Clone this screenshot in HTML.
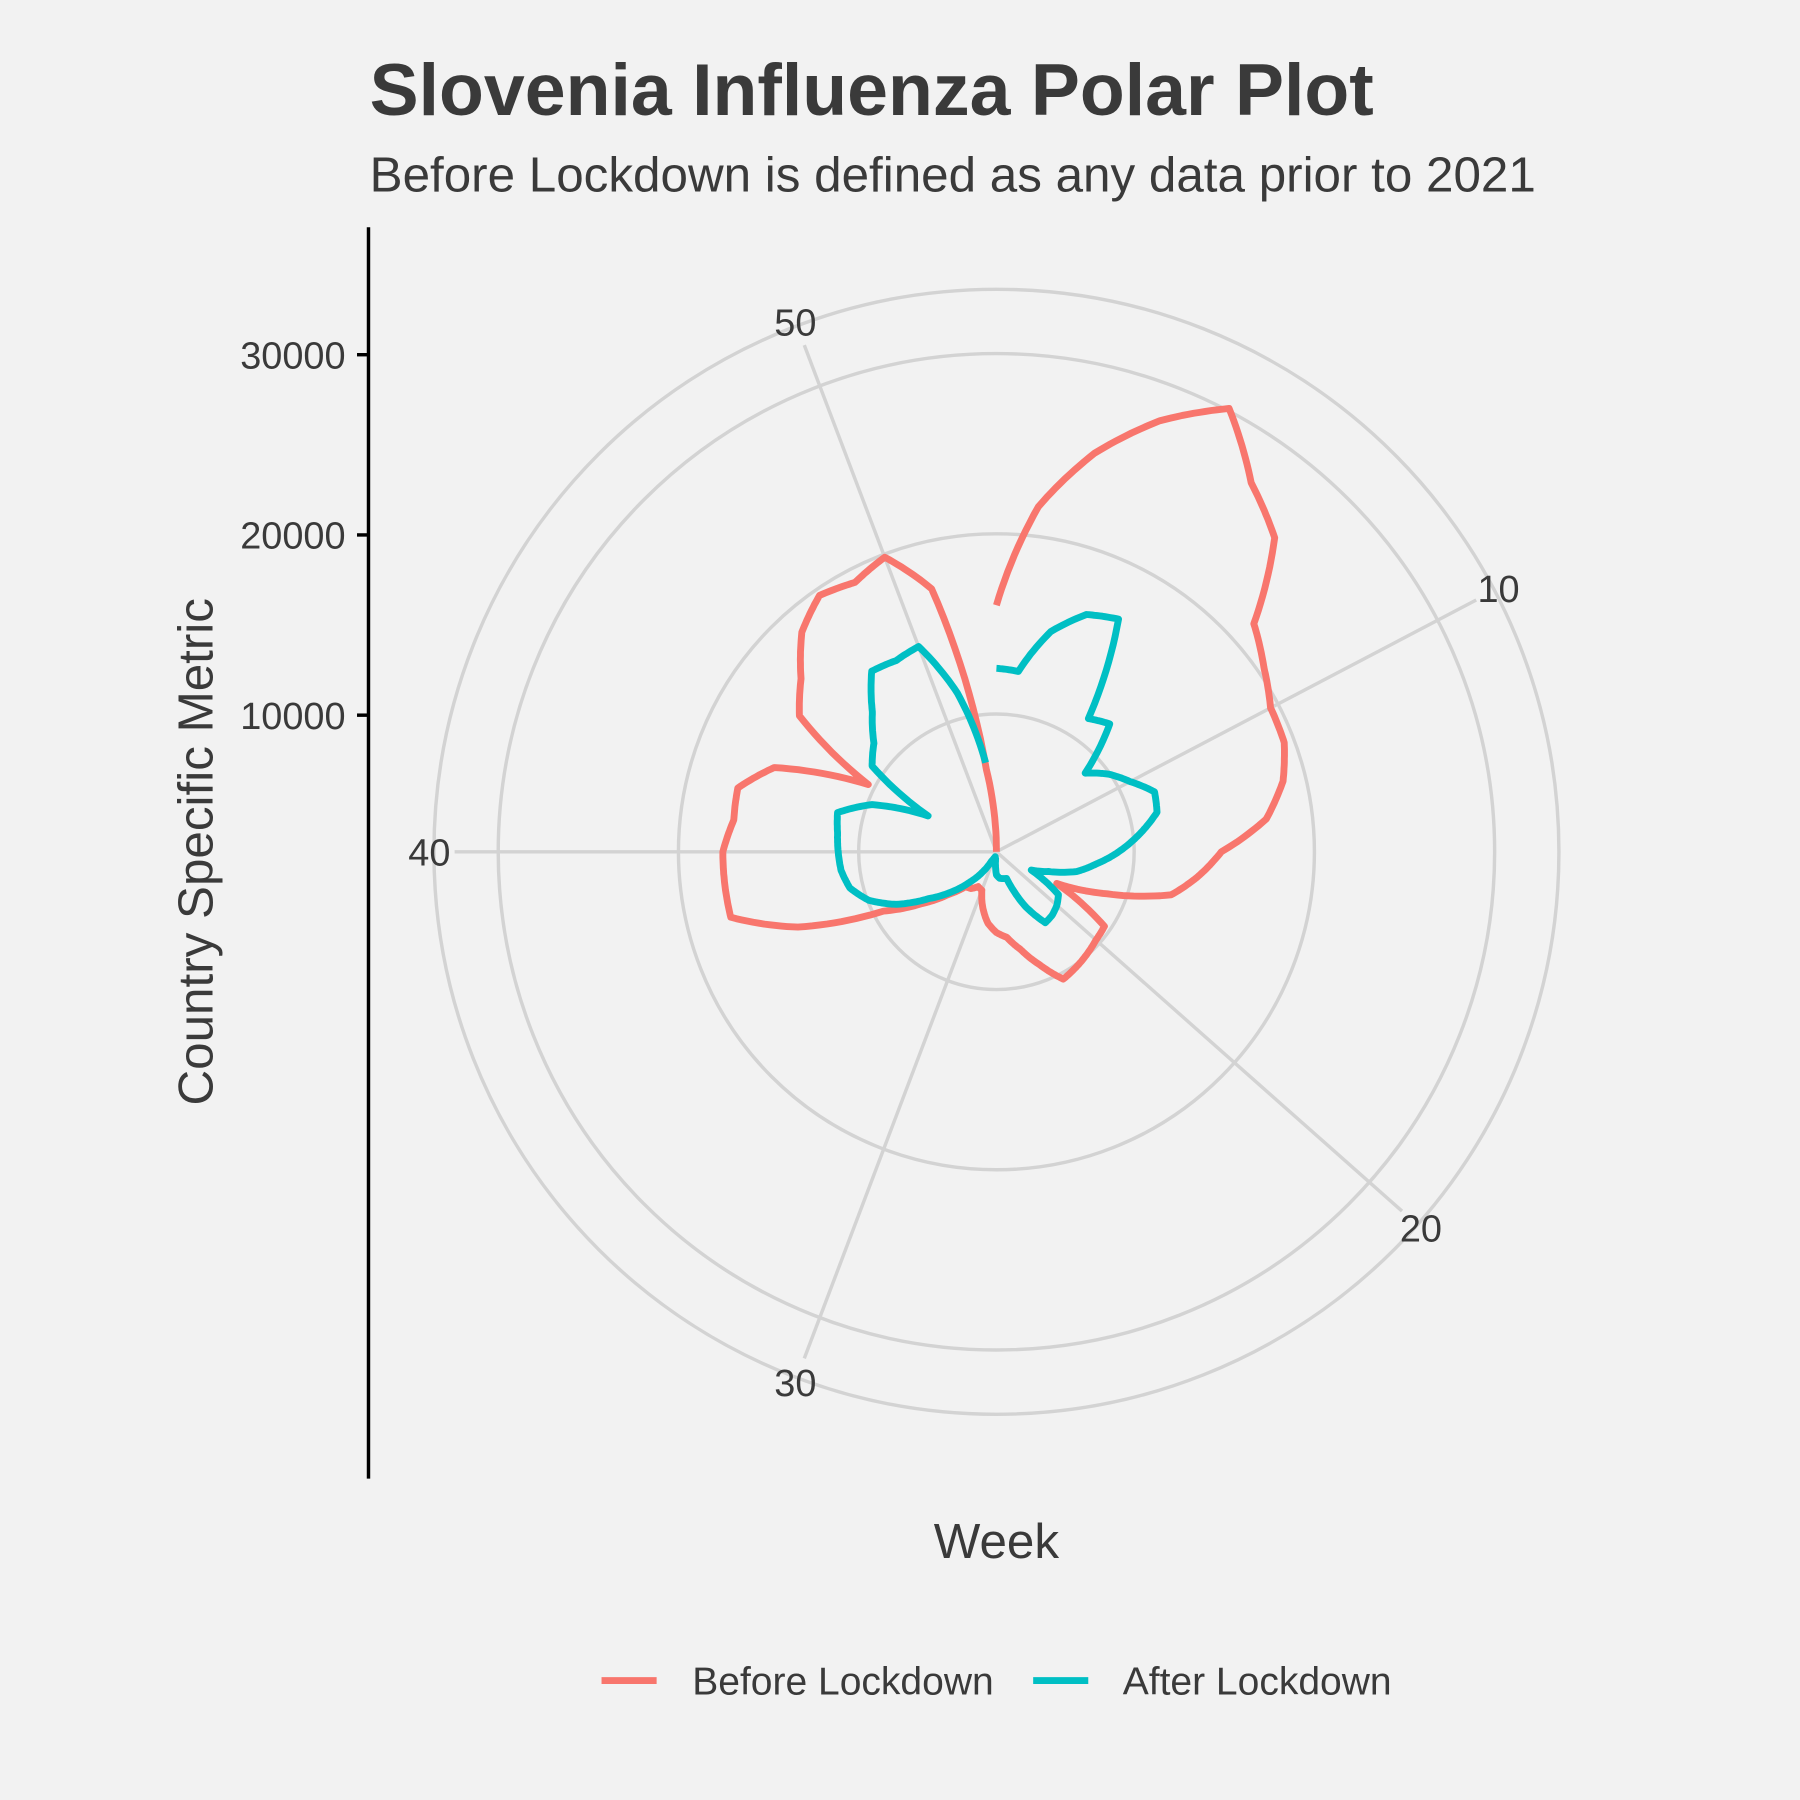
<!DOCTYPE html>
<html><head><meta charset="utf-8"><style>
html,body{margin:0;padding:0;background:#f2f2f2;}
svg{display:block;font-family:"Liberation Sans",Arial,sans-serif;}
</style></head><body>
<svg id="chart" width="1800" height="1800" viewBox="0 0 1568 1568" xmlns="http://www.w3.org/2000/svg">
<rect x="0" y="0" width="1568" height="1568" fill="#f2f2f2"/>
<text x="322" y="100" font-size="64" font-weight="bold" fill="#3a3a3a">Slovenia Influenza Polar Plot</text>
<text x="322" y="167" font-size="43" fill="#3a3a3a">Before Lockdown is defined as any data prior to 2021</text>
<g id="grid"></g>
<g id="series"></g>
<line x1="321" y1="198" x2="321" y2="1288" stroke="#000" stroke-width="3"/>
<g id="yaxis"></g>
<text transform="translate(185,742) rotate(-90)" text-anchor="middle" font-size="43" fill="#3a3a3a">Country Specific Metric</text>
<text x="868" y="1357" text-anchor="middle" font-size="43" fill="#3a3a3a">Week</text>
<g>
<line x1="524" y1="1464" x2="572" y2="1464" stroke="#F8766D" stroke-width="6"/>
<text x="603" y="1476" font-size="34" fill="#3a3a3a">Before Lockdown</text>
<line x1="900" y1="1464" x2="948" y2="1464" stroke="#00BFC4" stroke-width="6"/>
<text x="978" y="1476" font-size="34" fill="#3a3a3a">After Lockdown</text>
</g>
</svg>
<script>
const weeksBefore = [1,2,3,4,5,6,7,8,9,10,11,12,13,14,15,16,17,18,19,20,21,22,23,24,25,26,27,28,29,30,31,32,33,34,35,36,37,38,39,40,41,42,43,44,45,46,47,48,49,50,51,52,53];
const valuesBefore = [16100,21700,25200,28000,30200,27300,25700,21500,20450,19600,19500,18800,17500,14900,13700,12400,9000,6200,9700,9800,10000,10200,10400,9100,8000,7200,6900,6400,5600,4700,4600,4900,5000,6000,7500,9500,14200,17600,17600,17600,17100,17200,15600,10450,15700,16900,18700,19700,19300,19900,17450,7000,2420];
const weeksAfter = [1,2,3,4,5,6,7,8,9,10,11,12,13,14,15,16,17,18,19,20,21,22,23,24,25,26,27,28,29,30,31,32,33,34,35,36,37,38,39,40,41,42,43,44,45,46,47,48,49,50,51,52];
const valuesAfter = [12600,12500,15000,16500,17000,11400,11900,9000,10000,10800,11800,11600,10400,9200,8000,7000,5500,4600,6600,6900,7100,7200,5800,4000,3950,3900,3700,2800,2700,2800,3000,3800,4700,5800,7000,8700,10000,10800,11100,11200,11300,11500,9800,6700,10800,11500,12800,14600,14400,14600,11500,7400];
const yTicks = [10000,20000,30000];
const weekTicks = [10,20,30,40,50];

const NS = "http://www.w3.org/2000/svg";
const CX = 868, CY = 742;
const V0 = 2420, K = 0.0157;
function rScale(v){ return (v - V0) * K; }
function aScale(w){ return (w - 1) / 52 * 2 * Math.PI; }
function pt(w, v){ const a = aScale(w), r = Math.max(0, rScale(v)); return [CX + r*Math.sin(a), CY - r*Math.cos(a)]; }

const grid = document.getElementById('grid');
[120, 277, 434, 490].forEach(function(r){
  const c = document.createElementNS(NS,'circle');
  c.setAttribute('cx',CX); c.setAttribute('cy',CY); c.setAttribute('r',r);
  c.setAttribute('fill','none'); c.setAttribute('stroke','#d3d3d3'); c.setAttribute('stroke-width','3');
  
  
  grid.appendChild(c);
});
weekTicks.forEach(function(w){
  const a = aScale(w);
  const l = document.createElementNS(NS,'line');
  l.setAttribute('x1',CX); l.setAttribute('y1',CY);
  l.setAttribute('x2',CX+472*Math.sin(a)); l.setAttribute('y2',CY-472*Math.cos(a));
  l.setAttribute('stroke','#d3d3d3'); l.setAttribute('stroke-width','3');
  
  
  grid.appendChild(l);
  const t = document.createElementNS(NS,'text');
  t.setAttribute('x',CX+494*Math.sin(a)); t.setAttribute('y',CY-494*Math.cos(a)+12);
  t.setAttribute('text-anchor','middle'); t.setAttribute('font-size','33'); t.setAttribute('fill','#3a3a3a');
  t.textContent = w;
  
  
  grid.appendChild(t);
});

const yaxis = document.getElementById('yaxis');
yTicks.forEach(function(v){
  const y = CY - rScale(v);
  const l = document.createElementNS(NS,'line');
  l.setAttribute('x1',311); l.setAttribute('x2',321); l.setAttribute('y1',y); l.setAttribute('y2',y);
  l.setAttribute('stroke','#000'); l.setAttribute('stroke-width','3');
  
  
  yaxis.appendChild(l);
  const t = document.createElementNS(NS,'text');
  t.setAttribute('x',301); t.setAttribute('y',y+12); t.setAttribute('text-anchor','end');
  t.setAttribute('font-size','33'); t.setAttribute('fill','#3a3a3a');
  t.textContent = v;
  
  
  yaxis.appendChild(t);
});

function drawSeries(weeks, vals, color, name){
  let d = '';
  for (let i = 0; i < weeks.length; i++){
    if (i === 0){ const p = pt(weeks[0], vals[0]); d += 'M' + p[0].toFixed(1) + ' ' + p[1].toFixed(1); continue; }
    for (let s = 1; s <= 12; s++){
      const f = s/12;
      const w = weeks[i-1] + (weeks[i]-weeks[i-1])*f;
      const v = vals[i-1] + (vals[i]-vals[i-1])*f;
      const p = pt(w, v);
      d += 'L' + p[0].toFixed(1) + ' ' + p[1].toFixed(1);
    }
  }
  const path = document.createElementNS(NS,'path');
  path.setAttribute('d', d); path.setAttribute('fill','none');
  path.setAttribute('stroke', color); path.setAttribute('stroke-width','6');
  path.setAttribute('stroke-linejoin','round');
  
  
  document.getElementById('series').appendChild(path);
}
drawSeries(weeksBefore, valuesBefore, '#F8766D', 'before-lockdown-line');
drawSeries(weeksAfter, valuesAfter, '#00BFC4', 'after-lockdown-line');
</script>
</body></html>
